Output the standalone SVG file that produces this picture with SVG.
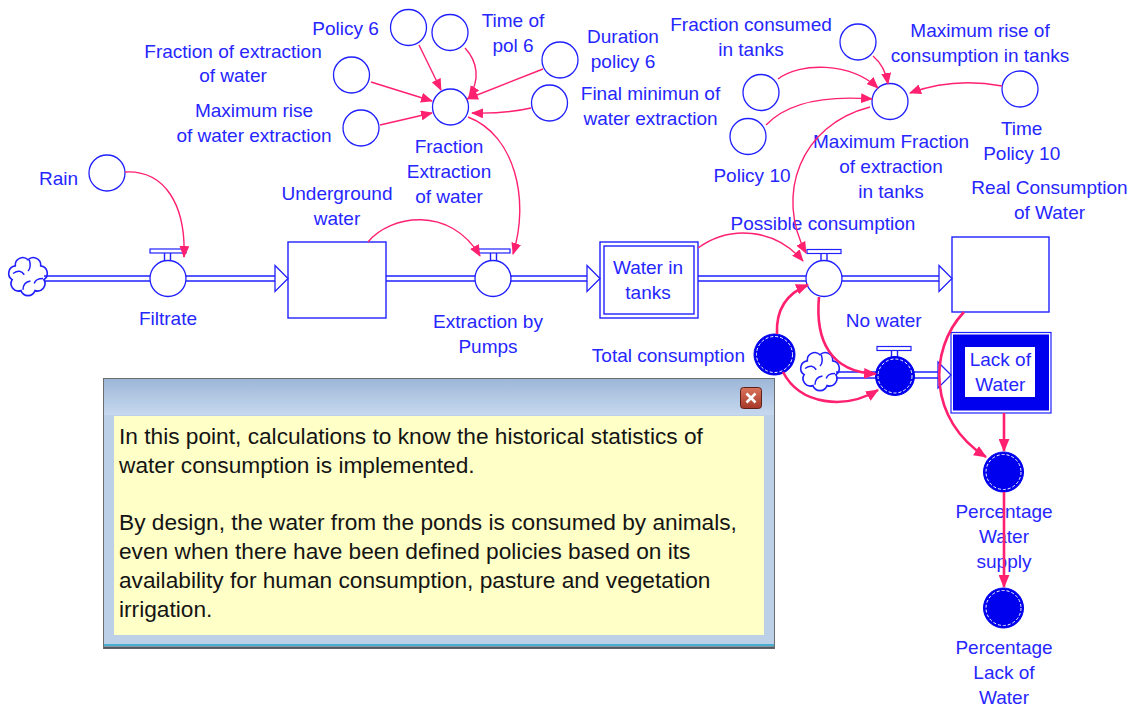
<svg xmlns="http://www.w3.org/2000/svg" width="1134" height="709" viewBox="0 0 1134 709">
  <style>
    .lbl{font-family:"Liberation Sans",Arial,sans-serif;font-size:19px;fill:#2626ff;text-anchor:middle}
    .aux{fill:#fff;stroke:#2020ff;stroke-width:1.3}
    .dark{fill:#0000ee;stroke:#0000ee;stroke-width:1}
    .ring{fill:none;stroke:#fff;stroke-width:1;stroke-dasharray:3 2}
    .pipe{fill:none;stroke:#2020ff;stroke-width:1.4}
    .head{fill:#fff;stroke:#2020ff;stroke-width:1.3;stroke-linejoin:miter}
    .box{fill:#fff;stroke:#2020ff;stroke-width:1.4}
    .bar{fill:#fff;stroke:#2020ff;stroke-width:1.2}
    .cloud{fill:#fff;stroke:#2020ff;stroke-width:1.3}
    .link{fill:none;stroke:#ff2070;stroke-width:1.4;marker-end:url(#ah)}
    .bold{stroke-width:2.6;marker-end:url(#ahb)}
    .note{font-family:"Liberation Sans",Arial,sans-serif;font-size:22.7px;fill:#141414}
  </style>
  <defs>
    <marker id="ah" viewBox="0 0 12 10" refX="11" refY="5" markerWidth="12" markerHeight="10" markerUnits="userSpaceOnUse" orient="auto">
      <path d="M0,0 L12,5 L0,10 z" fill="#ff2070"/>
    </marker>
    <marker id="ahb" viewBox="0 0 12 10" refX="11" refY="5" markerWidth="13" markerHeight="11" markerUnits="userSpaceOnUse" orient="auto">
      <path d="M0,0 L12,5 L0,10 z" fill="#ff2070"/>
    </marker>
    <!-- scalloped source/sink cloud, centred on 0,0 -->
    <g id="cloud">
      <path class="cloud" d="M0,-13 A6,6 0 0 1 10.16,-8.11 A6,6 0 0 1 12.67,2.89 A6,6 0 0 1 5.64,11.71 A6,6 0 0 1 -5.64,11.71 A6,6 0 0 1 -12.67,2.89 A6,6 0 0 1 -10.16,-8.11 A6,6 0 0 1 0,-13 z"/>
      <path fill="none" stroke="#2020ff" stroke-width="1.2" d="M1,-13 Q3,-7 0,-4 M-12,-2 Q-6,-6 -3,-1 M-4,11 Q-4,5 2,4 M12,2 Q6,2 5,6"/>
    </g>
    <linearGradient id="title" x1="0" y1="0" x2="0" y2="1">
      <stop offset="0" stop-color="#9db7d8"/>
      <stop offset="1" stop-color="#c6d8ee"/>
    </linearGradient>
    <linearGradient id="closeBtn" x1="0" y1="0" x2="0" y2="1">
      <stop offset="0" stop-color="#d9735b"/>
      <stop offset="1" stop-color="#a8382a"/>
    </linearGradient>
  </defs>

  <rect width="1134" height="709" fill="#fff"/>

  <!-- stocks -->
  <g id="underground-water">
    <rect class="box" x="288" y="242" width="98" height="76"/>
    <text class="lbl" x="337" y="200">Underground</text>
    <text class="lbl" x="337" y="225">water</text>
  </g>
  <g id="water-in-tanks">
    <rect class="box" x="600" y="242" width="98" height="76"/>
    <rect class="box" x="604" y="246" width="90" height="68"/>
    <text class="lbl" x="648" y="274">Water in</text>
    <text class="lbl" x="648" y="299">tanks</text>
  </g>
  <g id="real-consumption">
    <rect class="box" x="952" y="237" width="97" height="75"/>
    <text class="lbl" x="1049.5" y="194">Real Consumption</text>
    <text class="lbl" x="1049.5" y="218.5">of Water</text>
  </g>
  <g id="lack-of-water">
    <rect fill="#fff" stroke="#2020ff" stroke-width="1.2" x="951" y="332.5" width="100" height="80.5"/>
    <rect fill="#0000ee" x="953" y="334.5" width="96" height="76"/>
    <rect fill="#fff" x="965" y="347" width="70" height="50"/>
    <text class="lbl" x="1000.3" y="366">Lack of</text>
    <text class="lbl" x="1000.3" y="391">Water</text>
  </g>

  <!-- clouds -->
  <g id="source-rain-side">
    <use href="#cloud" transform="translate(28,276) scale(1.25)"/>
  </g>
  <g id="source-no-water">
    <use href="#cloud" transform="translate(820,371) scale(1.25)"/>
  </g>

  <!-- flow pipes -->
  <g id="pipes">
    <path class="pipe" d="M44,276 H150 M44,281 H150 M186,276 H275 M186,281 H275"/>
    <polygon class="head" points="275,265.5 288,278.5 275,291.5"/>
    <path class="pipe" d="M386,276 H475 M386,281 H475 M511,276 H587 M511,281 H587"/>
    <polygon class="head" points="587,265.5 600,278.5 587,291.5"/>
    <path class="pipe" d="M698,276 H806 M698,281 H806 M842,276 H939 M842,281 H939"/>
    <polygon class="head" points="939,265.5 952,278.5 939,291.5"/>
    <path class="pipe" d="M836,372 H876 M836,378 H876 M914,372 H938 M914,378 H938"/>
    <polygon class="head" points="938,362 951,375 938,388"/>
  </g>

  <!-- rates -->
  <g id="filtrate">
    <rect class="bar" x="150" y="249" width="36" height="4"/>
    <path class="pipe" d="M164.5,253 V261 M170.5,253 V261"/>
    <circle class="aux" cx="168" cy="278.5" r="18"/>
    <text class="lbl" x="168" y="325">Filtrate</text>
  </g>
  <g id="extraction-by-pumps">
    <rect class="bar" x="477" y="249" width="33" height="4"/>
    <path class="pipe" d="M490.5,253 V261 M496.5,253 V261"/>
    <circle class="aux" cx="493" cy="278.5" r="18"/>
    <text class="lbl" x="488" y="328">Extraction by</text>
    <text class="lbl" x="488" y="353">Pumps</text>
  </g>
  <g id="possible-consumption">
    <rect class="bar" x="807" y="249.5" width="34" height="4"/>
    <path class="pipe" d="M821,253.5 V261 M827,253.5 V261"/>
    <circle class="aux" cx="824" cy="278.5" r="18"/>
    <text class="lbl" x="823" y="230">Possible consumption</text>
  </g>
  <g id="no-water">
    <rect class="bar" x="877" y="346.5" width="34" height="4"/>
    <path class="pipe" d="M891.5,350.5 V357 M897.5,350.5 V357"/>
    <circle class="dark" cx="895" cy="376" r="19.5"/>
    <circle class="ring" cx="895" cy="376" r="17"/>
    <text class="lbl" x="883.7" y="327">No water</text>
  </g>

  <!-- auxiliaries -->
  <g id="rain">
    <circle class="aux" cx="107" cy="173" r="18"/>
    <text class="lbl" x="58.5" y="185">Rain</text>
  </g>
  <g id="fraction-extraction-of-water">
    <circle class="aux" cx="450.5" cy="107" r="18"/>
    <text class="lbl" x="449" y="153">Fraction</text>
    <text class="lbl" x="449" y="178">Extraction</text>
    <text class="lbl" x="449" y="203">of water</text>
  </g>
  <g id="policy-6">
    <circle class="aux" cx="408.5" cy="27.5" r="18"/>
    <text class="lbl" x="345.5" y="35">Policy 6</text>
  </g>
  <g id="time-of-pol-6">
    <circle class="aux" cx="450" cy="32.5" r="18"/>
    <text class="lbl" x="513" y="27">Time of</text>
    <text class="lbl" x="513" y="52">pol 6</text>
  </g>
  <g id="duration-policy-6">
    <circle class="aux" cx="560" cy="60" r="18"/>
    <text class="lbl" x="623" y="43">Duration</text>
    <text class="lbl" x="623" y="68">policy 6</text>
  </g>
  <g id="final-minimun-of-water-extraction">
    <circle class="aux" cx="549.5" cy="103" r="18"/>
    <text class="lbl" x="650.5" y="100">Final minimun of</text>
    <text class="lbl" x="650.5" y="125">water extraction</text>
  </g>
  <g id="fraction-of-extraction-of-water">
    <circle class="aux" cx="351.5" cy="75" r="18"/>
    <text class="lbl" x="233" y="58">Fraction of extraction</text>
    <text class="lbl" x="233" y="82">of water</text>
  </g>
  <g id="maximum-rise-of-water-extraction">
    <circle class="aux" cx="361" cy="128" r="18"/>
    <text class="lbl" x="254" y="117">Maximum rise</text>
    <text class="lbl" x="254" y="142">of water extraction</text>
  </g>
  <g id="fraction-consumed-in-tanks">
    <circle class="aux" cx="761" cy="92.5" r="18"/>
    <text class="lbl" x="751" y="31">Fraction consumed</text>
    <text class="lbl" x="751" y="56">in tanks</text>
  </g>
  <g id="maximum-rise-of-consumption-in-tanks">
    <circle class="aux" cx="858" cy="42" r="18"/>
    <text class="lbl" x="980" y="37">Maximum rise of</text>
    <text class="lbl" x="980" y="62">consumption in tanks</text>
  </g>
  <g id="policy-10">
    <circle class="aux" cx="748" cy="136.5" r="18"/>
    <text class="lbl" x="752" y="182">Policy 10</text>
  </g>
  <g id="maximum-fraction-of-extraction-in-tanks">
    <circle class="aux" cx="890" cy="101.5" r="18"/>
    <text class="lbl" x="891" y="148">Maximum Fraction</text>
    <text class="lbl" x="891" y="173">of extraction</text>
    <text class="lbl" x="891" y="198">in tanks</text>
  </g>
  <g id="time-policy-10">
    <circle class="aux" cx="1020" cy="89" r="18"/>
    <text class="lbl" x="1021.7" y="135">Time</text>
    <text class="lbl" x="1021.7" y="160">Policy 10</text>
  </g>
  <g id="total-consumption">
    <circle class="dark" cx="774.5" cy="354.5" r="20.5"/>
    <circle class="ring" cx="774.5" cy="354.5" r="18"/>
    <text class="lbl" x="745" y="362" style="text-anchor:end">Total consumption</text>
  </g>
  <g id="percentage-water-supply">
    <circle class="dark" cx="1003.5" cy="472" r="20"/>
    <circle class="ring" cx="1003.5" cy="472" r="17.5"/>
    <text class="lbl" x="1004" y="518">Percentage</text>
    <text class="lbl" x="1004" y="543">Water</text>
    <text class="lbl" x="1004" y="568">supply</text>
  </g>
  <g id="percentage-lack-of-water">
    <circle class="dark" cx="1003.5" cy="608" r="20"/>
    <circle class="ring" cx="1003.5" cy="608" r="17.5"/>
    <text class="lbl" x="1004" y="654">Percentage</text>
    <text class="lbl" x="1004" y="679">Lack of</text>
    <text class="lbl" x="1004" y="704">Water</text>
  </g>

  <!-- information links -->
  <g id="links">
    <path class="link" d="M125,172 C165,170 186,205 184,257"/>
    <path class="link" d="M368,242 C390,215 450,205 480,256"/>
    <path class="link" d="M468,117 C515,135 530,200 513,254"/>
    <path class="link" d="M419,45 L441,90"/>
    <path class="link" d="M465,48 C478,62 480,80 469,97"/>
    <path class="link" d="M543,69 L467,99"/>
    <path class="link" d="M531,108 Q505,114 472,113"/>
    <path class="link" d="M371,82 L432,101"/>
    <path class="link" d="M380,125 L432,113"/>
    <path class="link" d="M778,79 C800,62 850,62 878,88"/>
    <path class="link" d="M766,125 C785,105 820,95 872,99"/>
    <path class="link" d="M873,56 Q885,66 888,84"/>
    <path class="link" d="M1002,86 C970,80 940,82 910,93"/>
    <path class="link" d="M870,107 C800,125 775,195 806,253"/>
    <path class="link" d="M698,248 C730,225 775,228 803,261"/>
    <path class="link bold" d="M777,334 C776,312 785,294 808,285"/>
    <path class="link bold" d="M783,372 C800,405 845,410 878,390"/>
    <path class="link bold" d="M819,297 C815,340 830,372 876,374"/>
    <path class="link bold" d="M964,312 C928,350 928,420 986,457"/>
    <path class="link bold" d="M1004,413 L1004,451"/>
    <path class="link bold" d="M1004,492 L1004,587"/>
  </g>

  <!-- comment window -->
  <g id="note">
    <rect x="103.5" y="378.5" width="671" height="270" fill="#bcd0e8" stroke="#6c6c6c"/>
    <rect x="104" y="379" width="670" height="36" fill="url(#title)"/>
    <rect x="114" y="416" width="650" height="219" fill="#ffffc8"/>
    <line x1="104" y1="645" x2="774" y2="645" stroke="#4aaed0" stroke-width="2"/>
    <line x1="104" y1="647.5" x2="774" y2="647.5" stroke="#505860" stroke-width="2"/>
    <rect x="740.5" y="387.5" width="21" height="21" rx="3" fill="url(#closeBtn)" stroke="#5c2018"/>
    <path d="M746.5,393.5 L755.5,402.5 M755.5,393.5 L746.5,402.5" stroke="#fff" stroke-width="2.6"/>
    <text class="note" x="119" y="444">In this point, calculations to know the historical statistics of</text>
    <text class="note" x="119" y="472.8">water consumption is implemented.</text>
    <text class="note" x="119" y="530.4">By design, the water from the ponds is consumed by animals,</text>
    <text class="note" x="119" y="559.2">even when there have been defined policies based on its</text>
    <text class="note" x="119" y="588">availability for human consumption, pasture and vegetation</text>
    <text class="note" x="119" y="616.8">irrigation.</text>
  </g>
</svg>
